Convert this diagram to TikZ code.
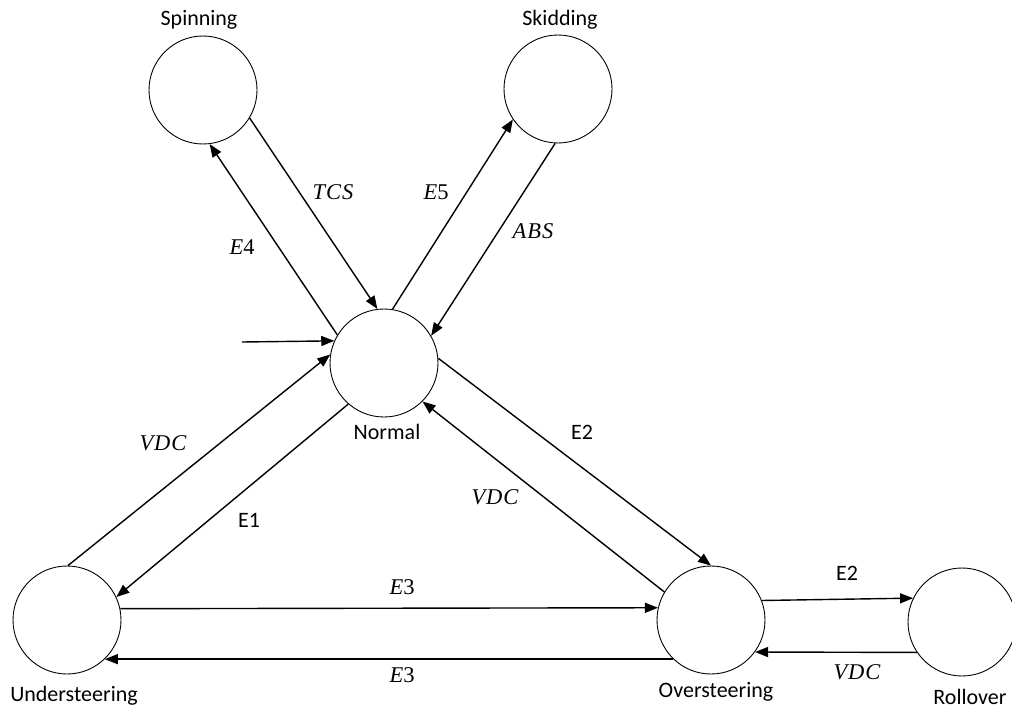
\documentclass[tikz,border=0pt]{standalone}
\usepackage{fontspec}
\setmainfont{Carlito}
\newfontfamily\serifit{Liberation Serif}[LetterSpace=4]
\usetikzlibrary{arrows.meta}
\newcommand{\ev}[2]{{\itshape #1}#2}
\begin{document}
\begin{tikzpicture}[x=1pt,y=-1pt,
  stnode/.style={circle,draw,line width=0.9pt,minimum size=108pt,inner sep=0pt},
  stname/.style={inner sep=0pt,font=\fontsize{22}{26}\selectfont},
  lbl/.style={inner sep=0pt,font=\fontsize{22}{26}\selectfont},
  mlbl/.style={inner sep=0pt,font=\serifit\fontsize{22.5}{26}\selectfont},
  trans/.style={line width=1.4pt,-{Triangle[length=13pt,width=10pt]}}]
\useasboundingbox (0,0) rectangle (1012,709);

% states
\node[stnode] (sp) at (203,90) {};
\node[stnode] (sk) at (558,89) {};
\node[stnode] (n)  at (384,363) {};
\node[stnode] (u)  at (67,620) {};
\node[stnode] (o)  at (711,620) {};
\node[stnode] (r)  at (962,622) {};

% state names
\node[stname] (spn) at (199,20) {Spinning};
\node[stname] (skn) at (560,20) {Skidding};
\node[stname] (nn)  at (387,432) {Normal};
\node[stname] (un)  at (74,696) {Understeering};
\node[stname] (on)  at (716,692) {Oversteering};
\node[stname] (rn)  at (970,697) {Rollover};

% initial arrow
\coordinate (init) at (242,342);
\draw[trans] (init) -- (n.156);

% transitions
\draw[trans] (n.149) -- (sp.-83);
\draw[trans] (sp.-31.5) -- (n.97.5);
\draw[trans] (n.81.4) -- (sk.214.6);
\draw[trans] (sk.267) -- (n.30.8);
\draw[trans] (u.89) -- (n.171.3);
\draw[trans] (n.229.4) -- (u.25.6);
\draw[trans] (n.5.2) -- (o.90.9);
\draw[trans] (o.149.7) -- (n.-45.7);
\draw[trans] (u.12.8) -- (o.167.2);
\draw[trans] (o.226.2) -- (u.-46.2);
\draw[trans] (o.21.4) -- (r.154.9);
\draw[trans] (r.214.3) -- (o.-36);

% transition labels
\node[mlbl] (l-tcs) at (333,192) {\itshape TCS};
\node[mlbl] (l-e5)  at (436,192) {\ev{E}{5}};
\node[mlbl] (l-e4)  at (242,247) {\ev{E}{4}};
\node[mlbl] (l-abs) at (533,231) {\itshape ABS};
\node[mlbl] (l-vdc1) at (163,443) {\itshape VDC};
\node[lbl]  (l-e1)  at (249,520) {E1};
\node[lbl]  (l-e2a) at (582,432) {E2};
\node[mlbl] (l-vdc2) at (495,497) {\itshape VDC};
\node[mlbl] (l-e3a) at (402,587) {\ev{E}{3}};
\node[mlbl] (l-e3b) at (402,675) {\ev{E}{3}};
\node[lbl]  (l-e2b) at (847,573) {E2};
\node[mlbl] (l-vdc3) at (857,672) {\itshape VDC};
\end{tikzpicture}
\end{document}
